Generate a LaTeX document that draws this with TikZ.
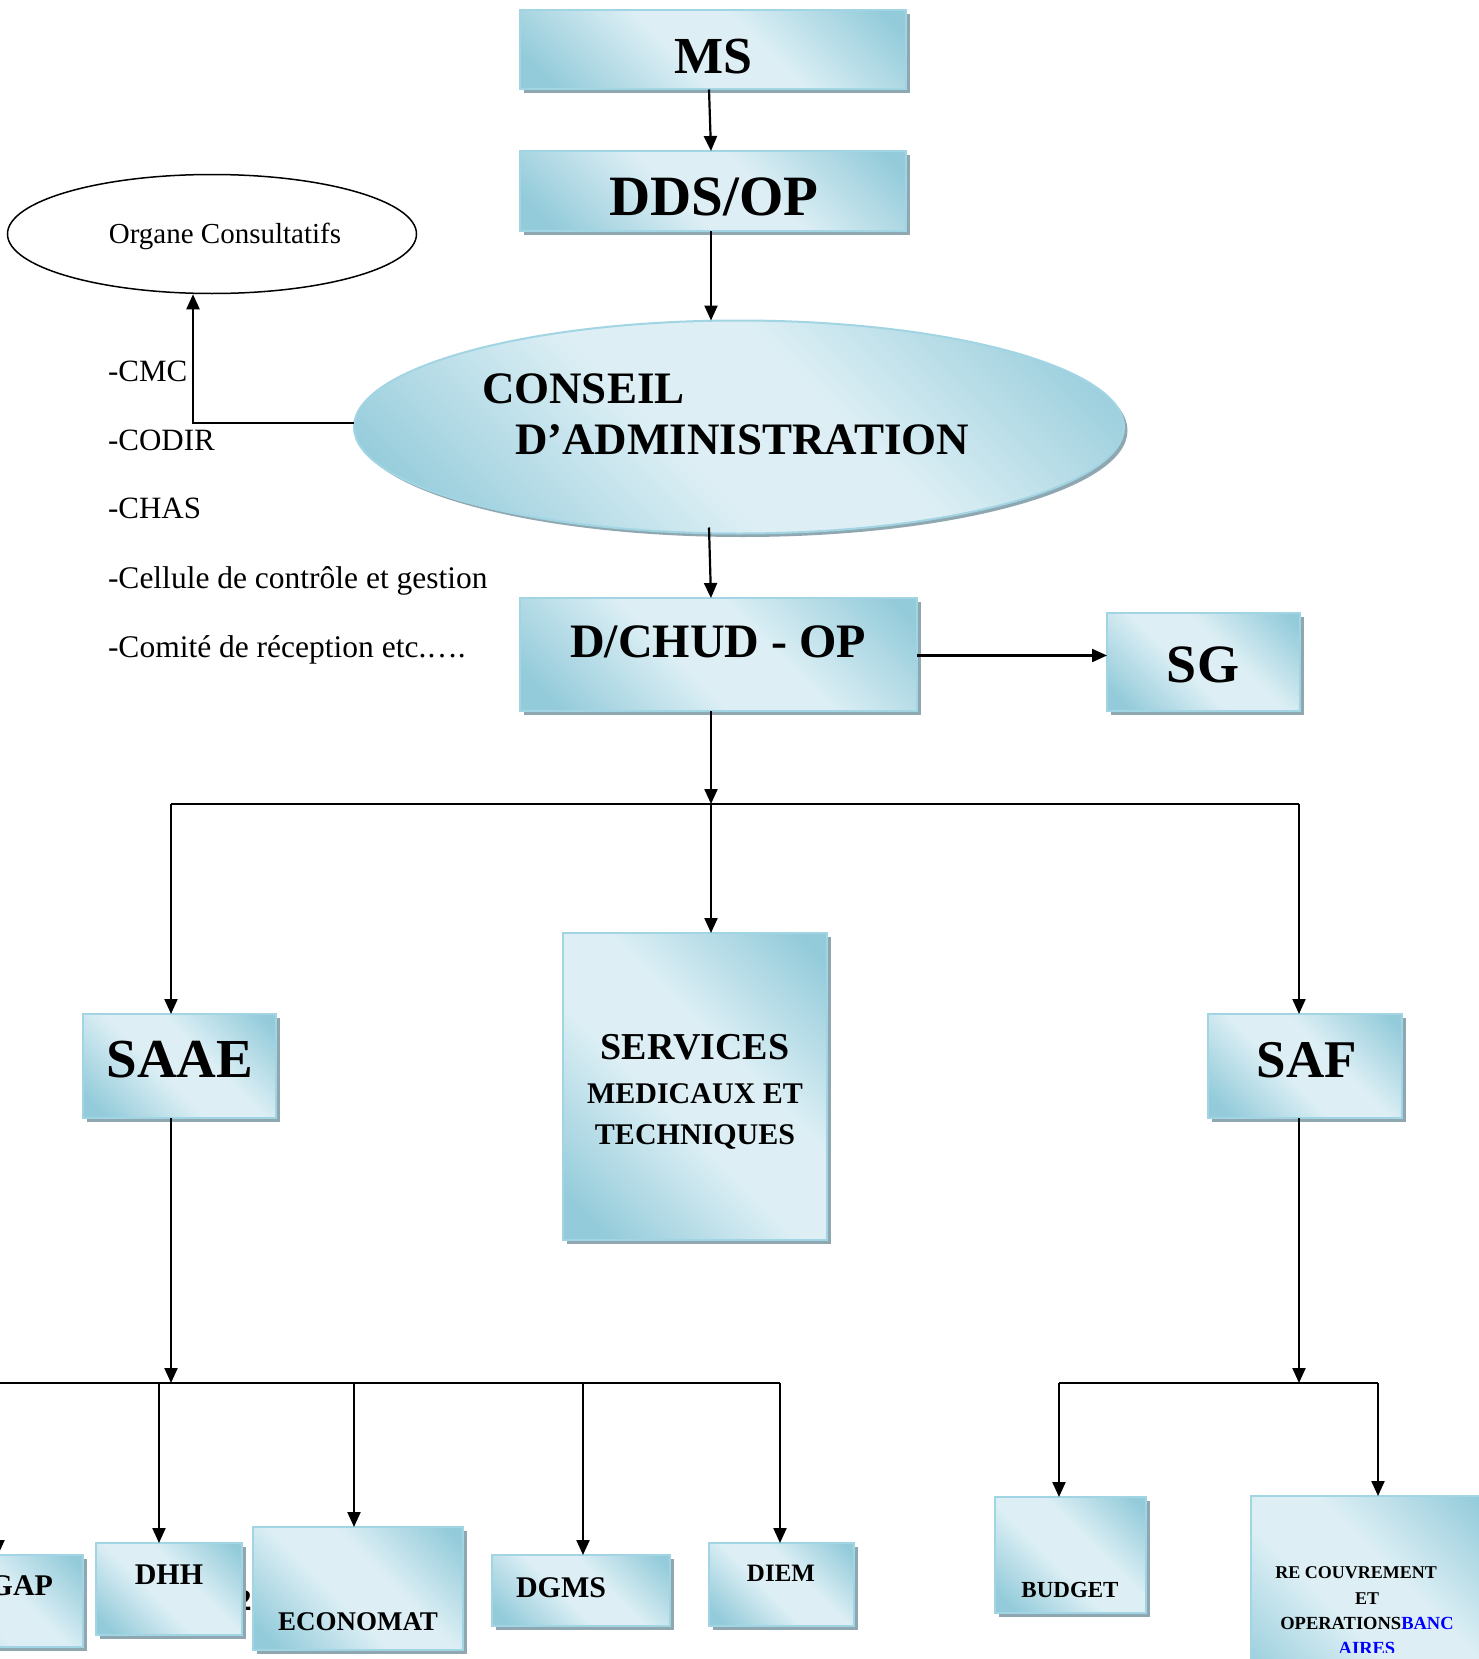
\documentclass[tikz,border=0pt]{standalone}
\usepackage{fontspec}
\setmainfont{Liberation Serif}
\usetikzlibrary{arrows.meta,shapes.geometric,shadows}
\definecolor{blight}{HTML}{DDEFF5}
\definecolor{bdark}{HTML}{93CBDA}
\definecolor{bborder}{HTML}{A2D5E3}
\definecolor{shadowc}{HTML}{8FA7B0}
\definecolor{linkblue}{HTML}{0000FF}
\pgfdeclarehorizontalshading{boxshade}{100bp}{color(0bp)=(bdark); color(20bp)=(bdark); color(44bp)=(blight); color(58bp)=(blight); color(82bp)=(bdark); color(100bp)=(bdark)}
\newcommand{\myfs}[1]{\fontsize{#1}{#1}\selectfont}
\begin{document}
\begin{tikzpicture}[x=1pt,y=-1pt,
 shad/.style={drop shadow={shadow xshift=3.5pt, shadow yshift=-3.5pt, fill=shadowc, opacity=1}},
 bx/.style={rectangle, draw=bborder, line width=2pt, shading=boxshade, shading angle=45, shad, inner sep=0pt, outer sep=0pt},
 el/.style={ellipse, draw=bborder, line width=2pt, shading=boxshade, shading angle=45, shad, inner sep=0pt, outer sep=0pt},
 lbl/.style={inner sep=0pt, outer sep=0pt, anchor=base, font=\bfseries},
 txt/.style={inner sep=0pt, outer sep=0pt, anchor=base west},
 arr/.style={line width=2.2pt, -{Triangle[length=15pt,width=13pt]}},
 ln/.style={line width=2.2pt}]
\useasboundingbox (0,0) rectangle (1479,1659);
\fill[white] (0,0) rectangle (1479,1659);

% boxes
\node[bx, minimum width=386pt, minimum height=79pt] (ms) at (713,50) {};
\node[bx, minimum width=386pt, minimum height=80pt] (dds) at (713,191) {};
\node[el, minimum width=770pt, minimum height=213pt] (ca) at (739,427) {};
\node[ellipse, draw=black, line width=1.5pt, fill=white, minimum width=409pt, minimum height=119pt, inner sep=0pt] (oc) at (212,234) {};
\node[bx, minimum width=397pt, minimum height=113pt] (dchud) at (718.5,654.5) {};
\node[bx, minimum width=193pt, minimum height=98pt] (sg) at (1203.5,662) {};
\node[bx, minimum width=193pt, minimum height=104pt] (saae) at (179.5,1066) {};
\node[bx, minimum width=194pt, minimum height=104pt] (saf) at (1305,1066) {};
\node[bx, minimum width=264pt, minimum height=307pt] (serv) at (695,1086.5) {};
\node[lbl, font=\bfseries\myfs{30}] (two) at (244,1610) {2};
\node[bx, minimum width=183pt, minimum height=92pt] (gap) at (-8.5,1601) {};
\node[bx, minimum width=146pt, minimum height=92pt] (dhh) at (169,1589) {};
\node[bx, minimum width=210pt, minimum height=123pt] (eco) at (358,1588.5) {};
\node[bx, minimum width=178pt, minimum height=71pt] (dgms) at (581,1590.5) {};
\node[bx, minimum width=145pt, minimum height=83pt] (diem) at (781.5,1584.5) {};
\node[bx, minimum width=151pt, minimum height=116pt] (bud) at (1070.5,1555) {};
\node[bx, minimum width=249pt, minimum height=224pt] (rec) at (1375.5,1608) {};

% labels
\node[lbl, font=\bfseries\myfs{52}] (tms) at (713,74) {MS};
\node[lbl, font=\bfseries\myfs{57}] (tdds) at (714,215) {DDS/OP};
\node[txt, font=\bfseries\myfs{45}] (tca1) at (482,403) {CONSEIL};
\node[txt, font=\bfseries\myfs{45}] (tca2) at (515,454) {D’ADMINISTRATION};
\node[lbl, font=\mdseries\myfs{29}] (toc) at (225,243) {Organe Consultatifs};
\node[txt, font=\myfs{31}] (l1) at (108,381) {-CMC};
\node[txt, font=\myfs{31}] (l2) at (108,450) {-CODIR};
\node[txt, font=\myfs{31}] (l3) at (108,518) {-CHAS};
\node[txt, font=\myfs{31.5}] (l4) at (108,588) {-Cellule de contrôle et gestion};
\node[txt, font=\myfs{31.5}] (l5) at (108,657) {-Comité de réception etc.…. };
\node[lbl, font=\bfseries\myfs{48}] (tdchud) at (718,657) {D/CHUD - OP};
\node[lbl, font=\bfseries\myfs{54}] (tsg) at (1203,682) {SG};
\node[lbl, font=\bfseries\myfs{55}] (tsaae) at (180,1077) {SAAE};
\node[lbl, font=\bfseries\myfs{53}] (tsaf) at (1307,1077) {SAF};
\node[lbl, font=\bfseries\myfs{38}] (ts1) at (695,1059) {SERVICES};
\node[lbl, font=\bfseries\myfs{30}] (ts2) at (695,1103) {MEDICAUX ET};
\node[lbl, font=\bfseries\myfs{30}] (ts3) at (695,1144) {TECHNIQUES};
\node[lbl, font=\bfseries\myfs{30}, anchor=base east] (tgap) at (53,1595) {GAP};
\node[lbl, font=\bfseries\myfs{30}] (tdhh) at (169,1584) {DHH};
\node[lbl, font=\bfseries\myfs{27}] (teco) at (358,1630) {ECONOMAT};
\node[lbl, font=\bfseries\myfs{30}] (tdgms) at (561,1597) {DGMS};
\node[lbl, font=\bfseries\myfs{25}] (tdiem) at (781,1581) {DIEM};
\node[lbl, font=\bfseries\myfs{23}] (tbud) at (1070,1597) {BUDGET};
\node[lbl, font=\bfseries\myfs{18}] (tr1) at (1356,1578) {RE COUVREMENT};
\node[lbl, font=\bfseries\myfs{18}] (tr2) at (1367,1604) {ET};
\node[lbl, font=\bfseries\myfs{18.5}] (tr3) at (1367,1629) {OPERATIONS\textcolor{linkblue}{BANC}};
\begin{scope}
\clip (1251,1496) rectangle (1479,1652);
\node[lbl, font=\bfseries\myfs{18.5}, text=linkblue] (tr4) at (1367,1654) {AIRES};
\end{scope}

% junction coordinates
\coordinate (ax) at (711,0);
\coordinate (j1) at (711,804);
\coordinate (jl) at (171,804);
\coordinate (jr) at (1299,804);
\coordinate (j2) at (171,1383);
\coordinate (jgap) at (-2,1383);
\coordinate (jstart) at (-12,1383);
\coordinate (jdhh) at (159,1383);
\coordinate (jeco) at (354,1383);
\coordinate (jdgms) at (583,1383);
\coordinate (jdiem) at (780,1383);
\coordinate (j3) at (1299,1383);
\coordinate (jb) at (1059,1383);
\coordinate (jre) at (1378,1383);

% connectors
\draw[arr] ([xshift=-4pt]ms.south) -- ([xshift=-2pt]dds.north);
\draw[arr] (dds.south -| ax) -- (ca.north -| ax);
\draw[arr] ([yshift=4pt]ca.west) -| ([xshift=-19pt]oc.south);
\draw[arr] ([xshift=-30pt,yshift=6pt]ca.south) -- (dchud.north -| ax);
\draw[arr] ([yshift=-1pt]dchud.east) -- ([yshift=-1pt]dchud.east -| sg.west);
\draw[arr] (dchud.south -| ax) -- (j1);
\draw[ln] (jl) -- (jr);
\draw[arr] (j1) -- (serv.north -| j1);
\draw[arr] (jl) -- (saae.north -| jl);
\draw[arr] (jr) -- (saf.north -| jr);
\draw[arr] (saae.south -| jl) -- (j2);
\draw[ln] (jstart) -- (jdiem);
\draw[arr] (jgap) -- (gap.north -| jgap);
\draw[arr] (jdhh) -- (dhh.north -| jdhh);
\draw[arr] (jeco) -- (eco.north -| jeco);
\draw[arr] (jdgms) -- (dgms.north -| jdgms);
\draw[arr] (jdiem) -- (diem.north -| jdiem);
\draw[arr] (saf.south -| jr) -- (j3);
\draw[ln] (jb) -- (jre);
\draw[arr] (jb) -- (bud.north -| jb);
\draw[arr] (jre) -- (rec.north -| jre);
\end{tikzpicture}
\end{document}
